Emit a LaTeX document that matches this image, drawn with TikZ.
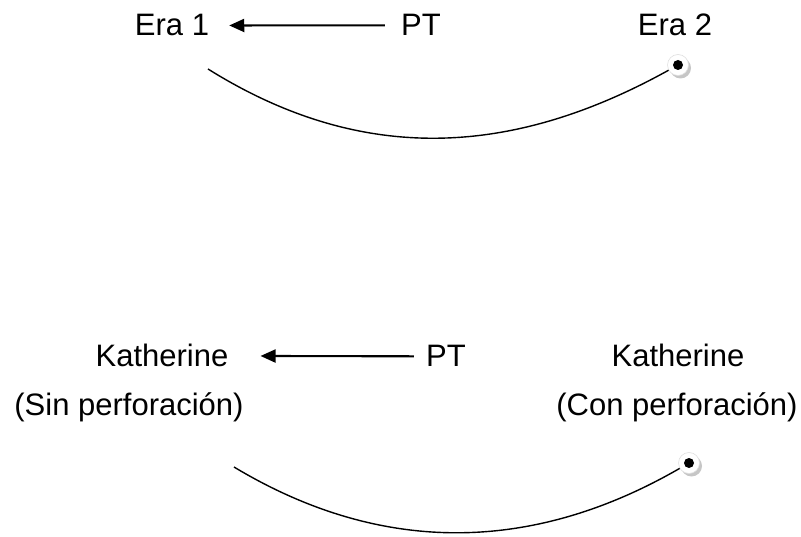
\documentclass[tikz,border=0pt]{standalone}
\usepackage{fontspec}
\setmainfont{Liberation Sans}
\usetikzlibrary{
  calc,positioning,shadows,
  arrows.meta
}
\tikzset{
  etiqueta/.style={anchor=base,inner sep=0pt,font=\fontsize{31}{37}\selectfont},
  flecha/.style={line width=2.1pt,-{Triangle[length=15pt,width=13pt]}},
  curva/.style={line width=1.4pt},
  ojo/.style={circle,fill=white,draw=gray!25,line width=0.6pt,
    minimum size=21pt,inner sep=0pt,
    drop shadow={shadow xshift=2.5pt,shadow yshift=-3pt,fill=gray!45,opacity=1},
    path picture={\fill[black] (path picture bounding box.center) circle (5pt);}}
}
\begin{document}
\begin{tikzpicture}[x=1pt,y=-1pt]
\useasboundingbox (0,0) rectangle (801,537);

\node[etiqueta] (era1) at (172,36) {Era 1};
\node[etiqueta] (pt1) at (421,36) {PT};
\node[etiqueta] (era2) at (675,36) {Era 2};
\draw[flecha,shorten <=16pt,shorten >=20pt] (pt1.west) -- (era1.east);

\coordinate (s1) at (208,69);
\node[ojo] (d1) at (678,65) {};
\draw[out=-32,in=-151,looseness=1,curva] (s1) to (d1);

\node[etiqueta] (kat1) at (162,367) {Katherine};
\node[etiqueta] (sin) at (129,416) {(Sin perforación)};
\node[etiqueta] (pt2) at (446,367) {PT};
\node[etiqueta] (kat2) at (678,367) {Katherine};
\node[etiqueta] (con) at (677,416) {(Con perforación)};
\draw[flecha,shorten <=12pt,shorten >=32pt] (pt2.west) -- (kat1.east);

\coordinate (s2) at (234,467);
\node[ojo] (d2) at (689,463) {};
\draw[out=-31,in=-150,looseness=0.98,curva] (s2) to (d2);
\end{tikzpicture}
\end{document}
